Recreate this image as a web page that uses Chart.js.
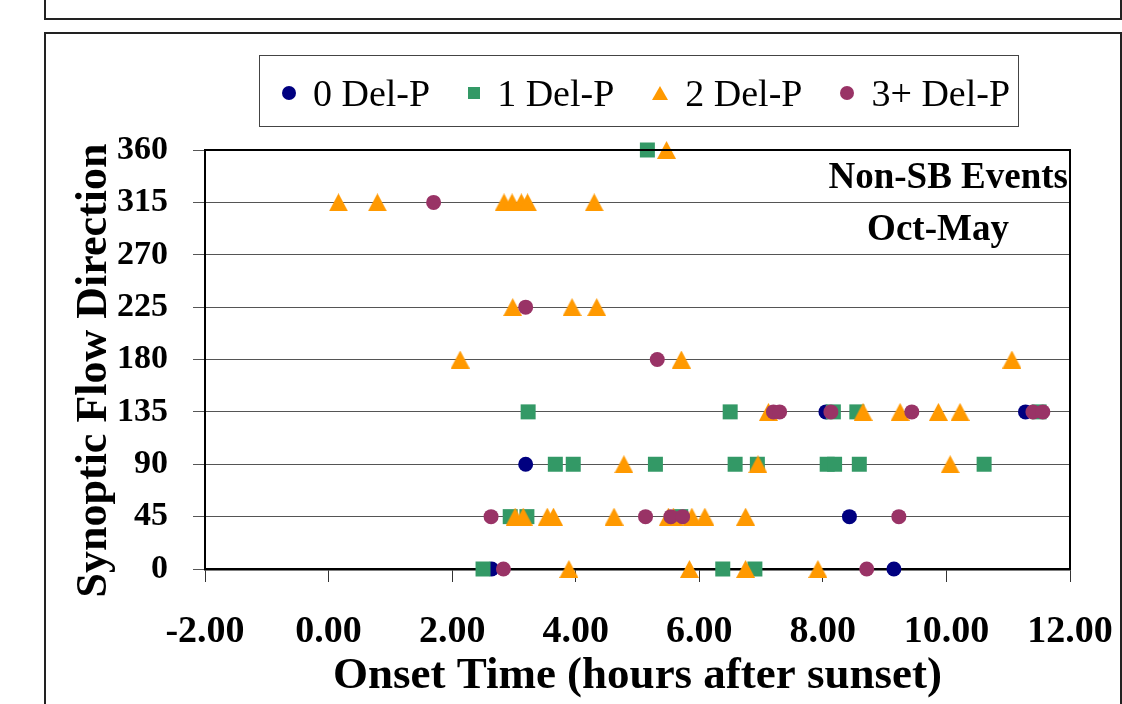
<!DOCTYPE html>
<html>
<head>
<meta charset="utf-8">
<script src="https://cdn.jsdelivr.net/npm/chart.js@4.4.1/dist/chart.umd.min.js"></script>
<style>
  html, body { margin: 0; padding: 0; background: #fff; }
  body { width: 1122px; height: 704px; position: relative; overflow: hidden; font-family: 'Liberation Serif', 'Times New Roman', serif; }
  #topBox { position: absolute; left: 44px; top: -4px; width: 1074px; height: 20px; border: 2px solid #222; }
  #chartBox { position: absolute; left: 44px; top: 32px; width: 1074px; height: 700px; border: 2px solid #222; }
  #c { position: absolute; left: 0; top: 0; }
  #legend {
    position: absolute; left: 259px; top: 55px; width: 760px; height: 72px;
    border: 1px solid #444; display: flex; align-items: center;
    padding: 4px 0 0 22px; gap: 38px; box-sizing: border-box;
    font-size: 38px; line-height: 1; color: #000;
  }
  .item { display: flex; align-items: center; gap: 17px; white-space: nowrap; }
  .mk { display: inline-block; }
</style>
</head>
<body>
<div id="topBox"></div>
<div id="chartBox"></div>
<canvas id="c" width="1122" height="704"></canvas>
<div id="legend"></div>
<script>
// series names and colours
const seriesNames = ["0 Del-P", "1 Del-P", "2 Del-P", "3+ Del-P"];
const seriesColors = ["#000080", "#339966", "#FF9900", "#993366"];

// 0 Del-P
const del0X = [3.19, 8.05, 11.28, 8.43, 2.64, 9.15];
const del0Y = [90, 135, 135, 45, 0, 0];

// 1 Del-P
const del1X = [5.16, 3.23, 6.50, 8.17, 8.55, 11.50, 3.67, 3.96, 5.29, 6.58, 6.94, 8.07, 8.19, 8.59, 10.61, 2.94, 3.21, 5.70, 2.50, 6.38, 6.90];
const del1Y = [360, 135, 135, 135, 135, 135, 90, 90, 90, 90, 90, 90, 90, 90, 90, 45, 45, 45, 0, 0, 0];

// 2 Del-P
const del2X = [5.47, 0.16, 0.79, 2.84, 2.97, 3.12, 3.22, 4.30, 2.98, 3.94, 4.34, 2.13, 5.71, 11.06,
               7.12, 8.65, 9.25, 9.87, 10.22, 4.78, 6.95, 10.06,
               3.02, 3.15, 3.54, 3.64, 4.62, 5.50, 5.58, 5.88, 6.09, 6.75, 3.89, 5.84, 6.75, 7.92];
const del2Y = [360, 315, 315, 315, 315, 315, 315, 315, 225, 225, 225, 180, 180, 180,
               135, 135, 135, 135, 135, 90, 90, 90,
               45, 45, 45, 45, 45, 45, 45, 45, 45, 45, 0, 0, 0, 0];

// 3+ Del-P
const del3X = [1.70, 3.19, 5.32, 7.20, 7.30, 8.13, 9.44, 11.40, 11.56, 2.63, 5.13, 5.54, 5.73, 9.23, 2.83, 8.71];
const del3Y = [315, 225, 180, 135, 135, 135, 135, 135, 135, 45, 45, 45, 45, 45, 0, 0];

// axis ticks
const xTicks = [-2, 0, 2, 4, 6, 8, 10, 12];
const yTicks = [0, 45, 90, 135, 180, 225, 270, 315, 360];

const FONT = "'Liberation Serif', 'Times New Roman', serif";

const toPts = (xs, ys) => xs.map((x, i) => ({ x: x, y: ys[i] }));

// Excel-like triangle marker (bbox centred on the point)
function triangleMarker(w, h, color) {
  const cv = document.createElement("canvas");
  cv.width = w; cv.height = h;
  const g = cv.getContext("2d");
  g.fillStyle = color;
  g.beginPath();
  g.moveTo(w / 2, 0);
  g.lineTo(w, h);
  g.lineTo(0, h);
  g.closePath();
  g.fill();
  return cv;
}

// html legend
const legend = document.getElementById("legend");
const mkCss = [
  "width:14px;height:14px;border-radius:50%;background:" + seriesColors[0],
  "width:12px;height:12px;background:" + seriesColors[1],
  "width:0;height:0;border-left:8px solid transparent;border-right:8px solid transparent;border-bottom:14px solid " + seriesColors[2],
  "width:14px;height:14px;border-radius:50%;background:" + seriesColors[3]
];
seriesNames.forEach((name, i) => {
  const item = document.createElement("div");
  item.className = "item";
  item.innerHTML = '<span class="mk" style="' + mkCss[i] + '"></span><span>' + name + '</span>';
  legend.appendChild(item);
});

// plot frame (top + right) and the two text labels
const framePlugin = {
  id: "frame",
  afterDraw(chart) {
    const { ctx, chartArea: a } = chart;
    ctx.save();
    ctx.strokeStyle = "#000";
    ctx.lineWidth = 2;
    ctx.beginPath();
    ctx.moveTo(a.left, a.top);
    ctx.lineTo(a.right, a.top);
    ctx.lineTo(a.right, a.bottom);
    ctx.stroke();
    ctx.fillStyle = "#000";
    ctx.font = "bold 37px " + FONT;
    ctx.textAlign = "right";
    ctx.textBaseline = "alphabetic";
    ctx.fillText("Non-SB Events", a.right - 2, 188);
    ctx.textAlign = "center";
    ctx.fillText("Oct-May", 938, 240);
    ctx.restore();
  }
};

const ctx = document.getElementById("c").getContext("2d");

new Chart(ctx, {
  type: "scatter",
  data: {
    datasets: [
      { label: seriesNames[0], data: toPts(del0X, del0Y), backgroundColor: seriesColors[0], pointStyle: "circle", pointRadius: 7.5, pointBorderWidth: 0, order: 3, clip: false },
      { label: seriesNames[1], data: toPts(del1X, del1Y), backgroundColor: seriesColors[1], pointStyle: "rect", pointRadius: 10.6, pointBorderWidth: 0, order: 2, clip: false },
      { label: seriesNames[2], data: toPts(del2X, del2Y), backgroundColor: seriesColors[2], pointStyle: triangleMarker(19, 18, seriesColors[2]), pointRadius: 9, pointBorderWidth: 0, order: 1, clip: false },
      { label: seriesNames[3], data: toPts(del3X, del3Y), backgroundColor: seriesColors[3], pointStyle: "circle", pointRadius: 7.5, pointBorderWidth: 0, order: 0, clip: false }
    ]
  },
  options: {
    responsive: false,
    animation: false,
    layout: { padding: { left: 50, top: 150, right: 52, bottom: 0 } },
    plugins: {
      legend: { display: false },
      tooltip: { enabled: false }
    },
    scales: {
      x: {
        type: "linear",
        min: -2,
        max: 12,
        afterBuildTicks: s => { s.ticks = xTicks.map(v => ({ value: v })); },
        afterFit: s => { s.height = 135; s.paddingLeft = 0; s.paddingRight = 0; },
        grid: { drawOnChartArea: false, drawTicks: true, tickLength: 13, color: "#333" },
        border: { color: "#000", width: 2.5 },
        ticks: {
          color: "#000",
          padding: 27,
          maxRotation: 0,
          font: { family: FONT, size: 38, weight: "bold" },
          callback: v => v.toFixed(2)
        },
        title: {
          display: true,
          text: "Onset Time (hours after sunset)",
          color: "#000",
          padding: { top: 0, bottom: 1 },
          font: { family: FONT, size: 45, weight: "bold" }
        }
      },
      y: {
        type: "linear",
        min: 0,
        max: 360,
        afterBuildTicks: s => { s.ticks = yTicks.map(v => ({ value: v })); },
        afterFit: s => { s.width = 155; s.paddingTop = 0; s.paddingBottom = 0; },
        grid: { color: "#555", lineWidth: 1, tickLength: 12 },
        border: { color: "#000", width: 2 },
        ticks: {
          color: "#000",
          padding: 25,
          font: { family: FONT, size: 34, weight: "bold" }
        },
        title: {
          display: true,
          text: "Synoptic Flow Direction  ",
          color: "#000",
          padding: { top: 18, bottom: 0 },
          font: { family: FONT, size: 44, weight: "bold" }
        }
      }
    }
  },
  plugins: [framePlugin]
});
</script>
</body>
</html>
